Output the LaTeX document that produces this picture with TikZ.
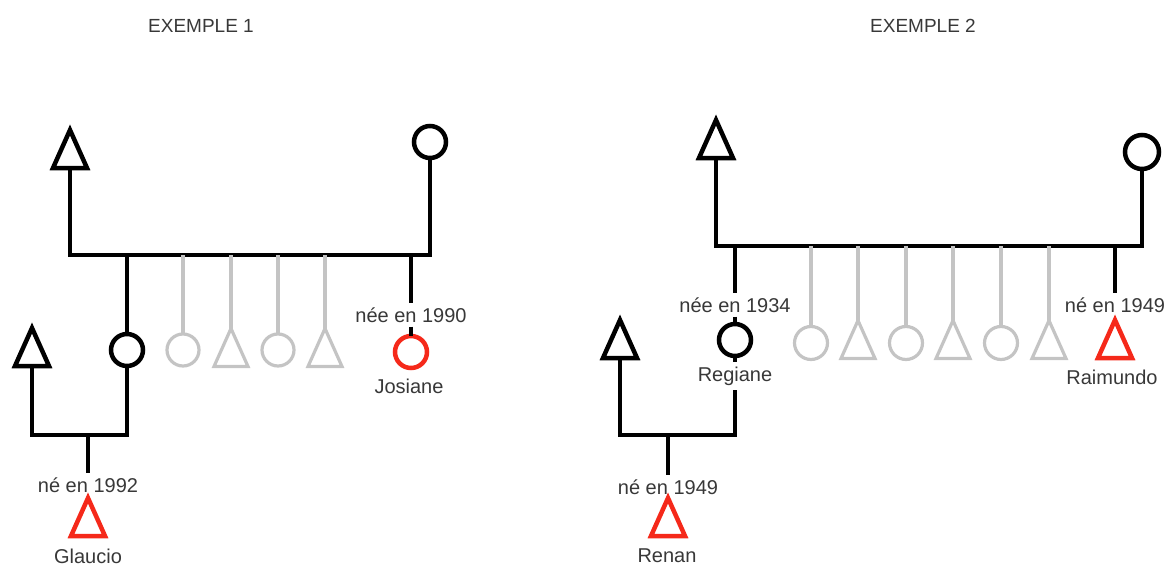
\documentclass[tikz,border=0pt]{standalone}
\usepackage{fontspec}
\setmainfont{Liberation Sans}
\usetikzlibrary{shapes.geometric}
\definecolor{redp}{HTML}{F5291A}
\definecolor{greyp}{HTML}{C4C4C4}
\definecolor{txt}{HTML}{383838}
\begin{document}
\begin{tikzpicture}[x=1pt,y=-1pt,
  ln/.style={line width=4.5pt,black},
  gln/.style={line width=3.2pt,greyp},
  male/.style={isosceles triangle, isosceles triangle stretches, shape border rotate=90,
    minimum width=34pt, minimum height=38pt, inner sep=0pt, outer sep=0pt, draw=black,
    line width=4.5pt, anchor=lower side},
  female/.style={circle, minimum size=32pt, inner sep=0pt, outer sep=0pt, draw=black, line width=4.5pt},
  gmale/.style={male, draw=greyp, line width=3.2pt},
  gfemale/.style={female, draw=greyp, line width=3.2pt},
  rmale/.style={male, draw=redp},
  rfemale/.style={female, draw=redp},
  lab/.style={font=\fontsize{20}{24}\selectfont, text=txt, inner sep=4pt},
  ttl/.style={font=\fontsize{19}{23}\selectfont, text=txt, inner sep=0pt}]
\useasboundingbox (0,0) rectangle (1171,565);

% ---------- Exemple 1 ----------
\node[ttl] (t1) at (201,26) {EXEMPLE 1};
\coordinate (b1) at (0,255);
\coordinate (s1) at (0,435);
\node[male] (f1) at (70,168) {};
\node[female] (m1) at (430,142) {};
\draw[ln] (f1.lower side) -- (f1.lower side |- b1) -- (m1.south |- b1) -- (m1.south);

\node[female] (c1) at (127,350) {};
\draw[ln] (c1.north |- b1) -- (c1.north);
\node[gfemale] (g1) at (183,350) {};
\node[gmale] (g2) at (231,366.5) {};
\node[gfemale] (g3) at (278,350) {};
\node[gmale] (g4) at (325,366.5) {};
\draw[gln] (g1.north |- b1) -- (g1.north);
\draw[gln] (g2.apex |- b1) -- (g2.apex);
\draw[gln] (g3.north |- b1) -- (g3.north);
\draw[gln] (g4.apex |- b1) -- (g4.apex);

\node[lab] (lj) at (411,315) {née en 1990};
\node[rfemale] (j1) at (411,352) {};
\node[lab] (nj) at (409,386) {Josiane};
\draw[ln] (lj.north |- b1) -- (lj.north);
\draw[ln] (lj.south) -- (j1.north);

\node[male] (h1) at (32,366) {};
\draw[ln] (h1.lower side) -- (h1.lower side |- s1) -- (c1.south |- s1) -- (c1.south);
\node[lab] (lg) at (88,485) {né en 1992};
\node[rmale] (gl) at (88,536) {};
\node[lab] (ng) at (88,556) {Glaucio};
\draw[ln] (lg.north |- s1) -- (lg.north);

% ---------- Exemple 2 ----------
\node[ttl] (t2) at (923,26) {EXEMPLE 2};
\coordinate (b2) at (0,246);
\coordinate (s2) at (0,435);
\node[male] (f2) at (716,158) {};
\node[female, minimum size=34pt] (m2) at (1142,152) {};
\draw[ln] (f2.lower side) -- (f2.lower side |- b2) -- (m2.south |- b2) -- (m2.south);

\node[lab] (lr) at (735,305) {née en 1934};
\node[female] (r1) at (735,340) {};
\node[lab] (nr) at (735,376) {Regiane};
\draw[ln] (lr.north |- b2) -- (lr.north);
\draw[ln] (lr.south) -- (r1.north);
\draw[ln] (r1.south) -- (nr.north);

\node[gfemale, minimum size=33pt] (k1) at (811,343) {};
\node[gmale] (k2) at (858,358.5) {};
\node[gfemale, minimum size=33pt] (k3) at (906,343) {};
\node[gmale] (k4) at (953,358.5) {};
\node[gfemale, minimum size=33pt] (k5) at (1001,343) {};
\node[gmale] (k6) at (1049,358.5) {};
\draw[gln] (k1.north |- b2) -- (k1.north);
\draw[gln] (k2.apex |- b2) -- (k2.apex);
\draw[gln] (k3.north |- b2) -- (k3.north);
\draw[gln] (k4.apex |- b2) -- (k4.apex);
\draw[gln] (k5.north |- b2) -- (k5.north);
\draw[gln] (k6.apex |- b2) -- (k6.apex);

\node[lab] (la) at (1115,305) {né en 1949};
\node[rmale] (ra) at (1115,358) {};
\node[lab] (na) at (1112,377) {Raimundo};
\draw[ln] (la.north |- b2) -- (la.north);

\node[male] (h2) at (620,358) {};
\draw[ln] (h2.lower side) -- (h2.lower side |- s2) -- (nr.south |- s2) -- (nr.south);
\node[lab] (lrn) at (668,487) {né en 1949};
\node[rmale] (re) at (668,536) {};
\node[lab] (nn) at (667,556) {Renan};
\draw[ln] (lrn.north |- s2) -- (lrn.north);
\end{tikzpicture}
\end{document}
